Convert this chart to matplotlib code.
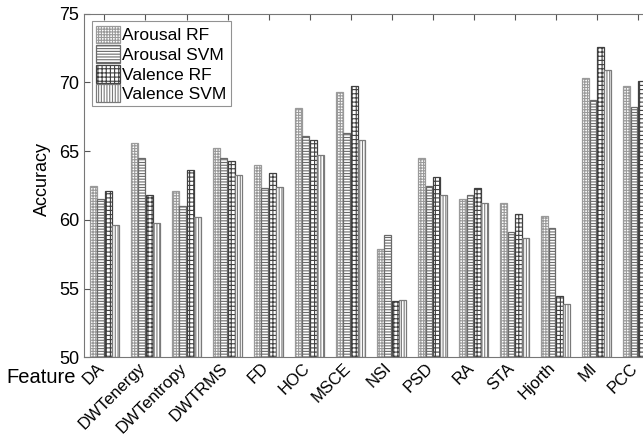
import numpy as np
import matplotlib.pyplot as plt
import matplotlib.transforms as mtransforms

plt.rcParams['font.family'] = ['Liberation Sans', 'DejaVu Sans']
plt.rcParams['hatch.linewidth'] = 0.8

features = ['DA', 'DWTenergy', 'DWTentropy', 'DWTRMS', 'FD', 'HOC', 'MSCE',
            'NSI', 'PSD', 'RA', 'STA', 'Hjorth', 'MI', 'PCC']
series_names = ['Arousal RF', 'Arousal SVM', 'Valence RF', 'Valence SVM']

arousal_rf = [62.5, 65.6, 62.1, 65.2, 64.0, 68.1, 69.3, 57.9, 64.5, 61.5, 61.2, 60.3, 70.3, 69.7]
arousal_svm = [61.5, 64.5, 61.0, 64.5, 62.3, 66.1, 66.3, 58.9, 62.5, 61.8, 59.1, 59.4, 68.7, 68.2]
valence_rf = [62.1, 61.8, 63.6, 64.3, 63.4, 65.8, 69.7, 54.1, 63.1, 62.3, 60.4, 54.5, 72.6, 70.1]
valence_svm = [59.6, 59.8, 60.2, 63.3, 62.4, 64.7, 65.8, 54.2, 61.8, 61.2, 58.7, 53.9, 70.9, 69.5]

data = [arousal_rf, arousal_svm, valence_rf, valence_svm]
hatches = ['++++++', '------', '++++', '||||||']
edges = ['#9a9a9a', '#6a6a6a', '#404040', '#7a7a7a']

fig = plt.figure(figsize=(6.43, 4.37), dpi=100)
ax = fig.add_axes([0.1306, 0.182, 0.893, 0.787])

x = np.arange(1, len(features) + 1)
w = 0.18
for i, vals in enumerate(data):
    ax.bar(x + (i - 1.5) * w, np.array(vals) - 50, width=w * 0.92, bottom=50,
           color='white', edgecolor=edges[i], hatch=hatches[i],
           linewidth=0.9, label=series_names[i])

ax.set_xlim(0.5, len(features) + 0.5)
ax.set_ylim(50, 75)
ax.set_yticks([50, 55, 60, 65, 70, 75])
ax.set_xticks(x)
ax.set_xticklabels(features, rotation=45, ha='right')
ax.tick_params(direction='in', length=4, labelsize=13, top=True, color='#555555')
ax.tick_params(axis='x', labelsize=12, pad=2)
offset = mtransforms.ScaledTranslation(3 / 100, 0, fig.dpi_scale_trans)
for lab in ax.get_xticklabels():
    lab.set_transform(lab.get_transform() + offset)
for s in ax.spines.values():
    s.set_color('#777777')
ax.set_ylabel('Accuracy', fontsize=13)
ax.yaxis.set_label_coords(-0.058, 0.52)
ax.text(-0.136, -0.058, 'Feature', transform=ax.transAxes, fontsize=14.5,
        ha='left', va='center')

leg = ax.legend(loc='upper left', fontsize=12.5, frameon=True, fancybox=False,
                handlelength=1.4, handleheight=1.2, handletextpad=0.1,
                labelspacing=0.1, borderpad=0.25, borderaxespad=0.45)
leg.get_frame().set_edgecolor('#777777')
leg.get_frame().set_linewidth(0.8)

fig.savefig('out.png', dpi=100)
